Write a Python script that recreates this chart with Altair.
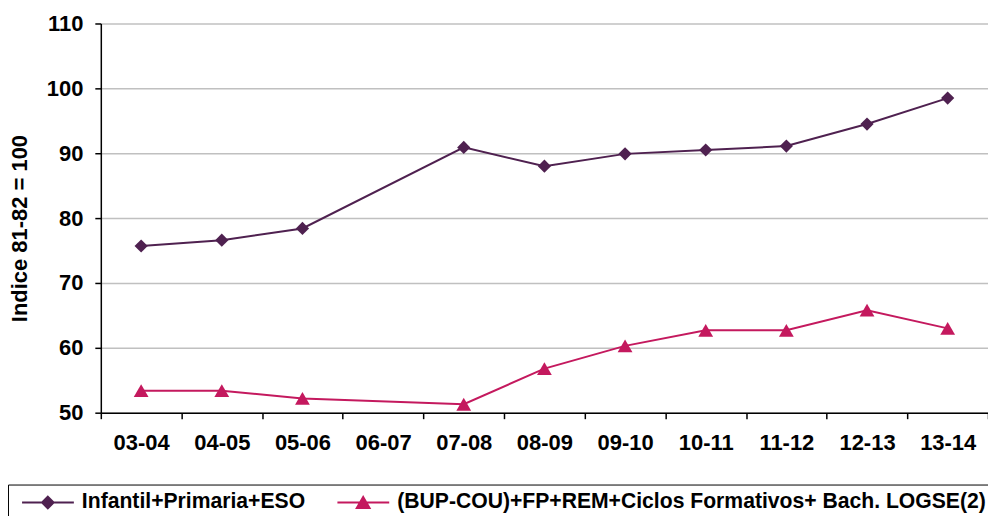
import altair as alt
import pandas as pd

categories = ["03-04", "04-05", "05-06", "06-07", "07-08", "08-09",
              "09-10", "10-11", "11-12", "12-13", "13-14"]
infantil = [75.7, 76.6, 78.4, None, 90.9, 88.0, 89.9, 90.5, 91.1, 94.5, 98.5]
bup = [53.4, 53.4, 52.2, None, 51.3, 56.8, 60.3, 62.7, 62.7, 65.8, 63.0]

series_names = ["Infantil+Primaria+ESO",
                "(BUP-COU)+FP+REM+Ciclos Formativos+ Bach. LOGSE(2)"]
series_colors = ["#4f2150", "#c4195e"]
marker_shapes = ["diamond", "triangle-up"]
marker_sizes = [175, 220]
legend_paths = [
    "M-0.79,0H1M0.1,-0.2L0.3,0L0.1,0.2L-0.1,0Z",
    "M-0.79,0H1M0.1,-0.19L0.32,0.19L-0.12,0.19Z",
]

rows = []
for name, vals in zip(series_names, [infantil, bup]):
    for i, (c, v) in enumerate(zip(categories, vals)):
        if v is not None:
            rows.append({"curso": c, "valor": v, "serie": name, "idx": i})
df = pd.DataFrame(rows)

FONT = "Liberation Sans"

x_enc = alt.X(
    "curso:N",
    scale=alt.Scale(type="band", domain=categories, paddingInner=0, paddingOuter=0),
    axis=alt.Axis(title=None, labelAngle=0, labelFont=FONT, labelFontSize=22,
                  labelFontWeight="bold", labelColor="black", labelPadding=14,
                  tickBand="extent", tickSize=6, tickColor="black", tickWidth=1.5,
                  domainColor="black", domainWidth=1.5, grid=False),
)
y_enc = alt.Y(
    "valor:Q",
    scale=alt.Scale(domain=[50, 110], nice=False, zero=False),
    axis=alt.Axis(title="Indice 81-82 = 100", values=[50, 60, 70, 80, 90, 100, 110],
                  labelFont=FONT, labelFontSize=22, labelFontWeight="bold",
                  labelColor="black", labelPadding=12, tickSize=6, tickColor="black",
                  tickWidth=1.5, domainColor="black", domainWidth=1.5,
                  grid=True, gridColor="#c0c0c0", gridWidth=1.5,
                  titleFont=FONT, titleFontSize=22, titleFontWeight="bold",
                  titleColor="black", titlePadding=15, titleY=205),
)

base = alt.Chart(df)

lines = base.mark_line(strokeWidth=2).encode(
    x=x_enc, y=y_enc,
    color=alt.Color("serie:N", scale=alt.Scale(domain=series_names, range=series_colors),
                    legend=None),
    order=alt.Order("idx:Q"),
)

point_layers = []
for name, col, shp, sz in zip(series_names, series_colors, marker_shapes, marker_sizes):
    point_layers.append(
        base.transform_filter(alt.datum.serie == name)
        .mark_point(shape=shp, filled=True, size=sz, opacity=1, color=col)
        .encode(x=x_enc, y=y_enc)
    )

leg_props = dict(
    orient="none", legendX=-93, legendY=462, direction="horizontal", title=None,
    strokeColor="black", padding=7, columnPadding=25, labelOffset=7,
    labelFont=FONT, labelFontSize=21.2, labelFontWeight="bold", labelColor="black",
    labelLimit=800,
    symbolSize=3364, symbolStrokeWidth=2, symbolOpacity=1, clipHeight=22,
)

legend_layer = base.mark_point(
    filled=True, opacity=0, size=3364
).encode(
    x=x_enc, y=y_enc,
    fill=alt.Fill("serie:N", scale=alt.Scale(domain=series_names, range=series_colors),
                  legend=alt.Legend(**leg_props)),
    stroke=alt.Stroke("serie:N", scale=alt.Scale(domain=series_names, range=series_colors),
                      legend=alt.Legend(**leg_props)),
    shape=alt.Shape("serie:N", scale=alt.Scale(domain=series_names, range=legend_paths),
                    legend=alt.Legend(**leg_props)),
)

chart = alt.layer(legend_layer, lines, *point_layers).properties(
    width=889, height=390,
    autosize=alt.AutoSizeParams(type="none"),
    padding={"left": 93, "top": 15, "right": 0, "bottom": 103},
).configure_view(stroke=None)

chart.save("out.html", embed_options={"renderer": "svg", "actions": False})
